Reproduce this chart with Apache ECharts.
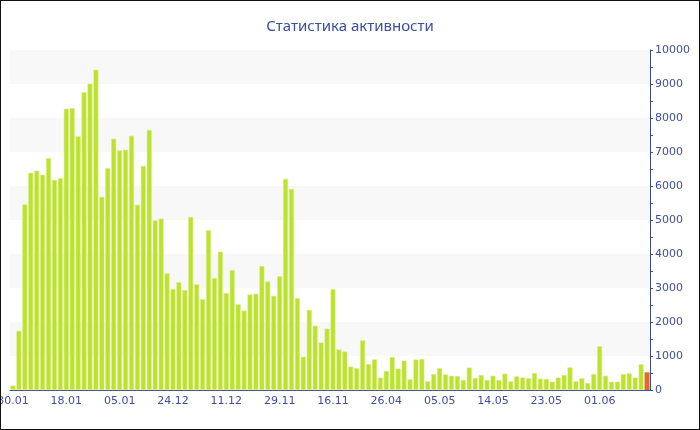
<!DOCTYPE html>
<html>
<head>
<meta charset="utf-8">
<script src="https://cdn.jsdelivr.net/npm/echarts@6/dist/echarts.min.js"></script>
<style>
html,body{margin:0;padding:0;background:#fff;}
#chart{width:700px;height:430px;box-sizing:border-box;border:1px solid #111;}
</style>
</head>
<body>
<div id="chart"></div>
<script>
const titleText = "Статистика активности";
const tickLabels = ["30.01","18.01","05.01","24.12","11.12","29.11","16.11","26.04","05.05","14.05","23.05","01.06"];
const values = [
  130, 1740, 5460, 6390, 6450, 6330, 6820, 6180, 6230, 8270,
  8290, 7460, 8760, 9010, 9420, 5680, 6520, 7390, 7045, 7065,
  7480, 5450, 6590, 7650, 4990, 5040, 3430, 2970, 3170, 2940,
  5090, 3110, 2670, 4700, 3290, 4070, 2850, 3530, 2520, 2335,
  2810, 2830, 3650, 3190, 2770, 3350, 6210, 5910, 2700, 980,
  2355, 1890, 1395, 1805, 2965, 1190, 1130, 690, 640, 1460,
  760, 900, 365, 560, 970, 630, 865, 315, 895, 915,
  255, 470, 640, 460, 420, 410, 295, 660, 355, 440,
  295, 420, 295, 480, 255, 400, 365, 345, 500, 335,
  325, 245, 365, 440, 665, 255, 345, 205, 470, 1285,
  420, 245, 245, 470, 490, 365, 755, 520
];
const highlightIndex = 107;

const categories = values.map((v, i) => (i % 9 === 0 && tickLabels[i / 9]) ? tickLabels[i / 9] : ("#" + i));

const chart = echarts.init(document.getElementById('chart'));
chart.setOption({
  backgroundColor: '#ffffff',
  animation: false,
  title: {
    text: titleText,
    left: 'center',
    top: 13,
    textStyle: { fontFamily: 'Noto Sans', fontSize: 15, fontWeight: 'normal', color: '#3a4fa0' }
  },
  grid: { left: 9, right: 49, top: 49, bottom: 39, outerBoundsMode: 'none', containLabel: false },
  xAxis: {
    type: 'category',
    data: categories,
    axisLine: { lineStyle: { color: '#3b4b98', width: 1 } },
    axisTick: { alignWithLabel: true, interval: 8, length: 4, lineStyle: { color: '#3b4b98' } },
    axisLabel: { interval: 8, color: '#3f4f9f', fontFamily: 'DejaVu Sans', fontSize: 11, margin: 6, hideOverlap: false }
  },
  yAxis: {
    type: 'value',
    position: 'right',
    min: 0, max: 10000, interval: 1000,
    axisLine: { show: true, lineStyle: { color: '#3b4b98' } },
    axisTick: { show: true, length: 3, lineStyle: { color: '#3b4b98' } },
    minorTick: { show: true, splitNumber: 2, length: 3, lineStyle: { color: '#3b4b98' } },
    axisLabel: { color: '#3f4f9f', fontFamily: 'DejaVu Sans', fontSize: 11, margin: 5, formatter: v => String(v) },
    splitLine: { show: false },
    splitArea: { show: true, areaStyle: { color: ['#ffffff', '#f8f8f8'] } }
  },
  series: [{
    type: 'bar',
    data: values.map((v, i) => i === highlightIndex
      ? { value: v, itemStyle: { color: '#e06a2c', borderWidth: 0 } }
      : v),
    barCategoryGap: '16%',
    itemStyle: { color: '#bde22e', borderColor: '#d6ee86', borderWidth: 0.6 }
  }]
});
</script>
</body>
</html>
